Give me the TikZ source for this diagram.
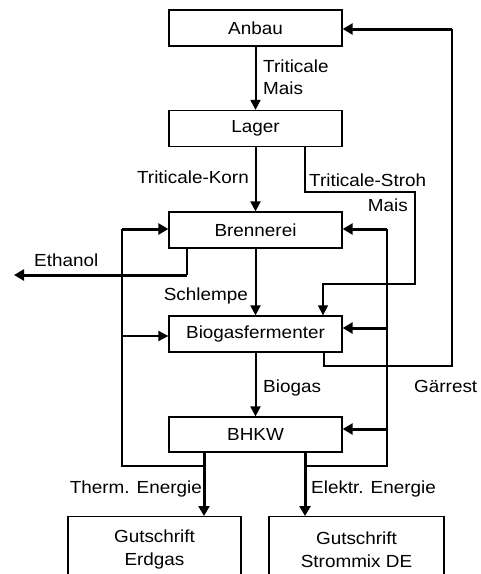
\documentclass[tikz,border=0pt]{standalone}
\usepackage{fontspec}
\setmainfont[FakeStretch=1.08]{Liberation Sans}
\usetikzlibrary{arrows.meta}
\newcommand\fsz{\fontsize{17.5pt}{22.5pt}\selectfont}
\begin{document}
\begin{tikzpicture}[x=1pt,y=-1pt,
  box/.style={draw, line width=1.3pt, minimum width=173pt, minimum height=36pt, inner sep=0pt, font=\fsz},
  lbl/.style={inner sep=0pt, font=\fsz},
  thinl/.style={line width=1.3pt},
  medarrow/.style={line width=2pt, -{Triangle[length=10pt,width=10pt]}},
  thinarrow/.style={line width=1.3pt, -{Triangle[length=10pt,width=10pt]}},
  thickarrow/.style={line width=3pt, -{Triangle[length=10pt,width=11pt]}}]
\useasboundingbox (0,0) rectangle (481,574);
\clip (0,0) rectangle (481,574);
% boxes
\node[box] (anbau) at (255.5,28) {Anbau};
\node[box] (lager) at (255.5,128.5) {Lager};
\node[box] (brennerei) at (255.5,230) {Brennerei};
\node[box] (bgf) at (255.5,334) {Biogasfermenter};
\node[box, minimum height=35pt] (bhkw) at (255.5,434.5) {BHKW};
\node[box, anchor=north, minimum height=66pt, align=center] (erdgas) at (154.5,516) {Gutschrift\\Erdgas};
\node[box, anchor=north, minimum width=175pt, minimum height=66pt, align=center] (strom) at (356.5,516) {Gutschrift\\Strommix DE};
% coordinates
\coordinate (ts1) at (305,192);
\coordinate (ts2) at (415,192);
\coordinate (ts3) at (415,284);
\coordinate (ts4) at (323,284);
\coordinate (e1) at (187,275);
\coordinate (e2) at (14,275);
\coordinate (l1) at (122,229);
\coordinate (l2) at (122,336);
\coordinate (l3) at (122,466);
\coordinate (t1) at (204,466);
\coordinate (r1) at (387,229);
\coordinate (r2) at (387,328);
\coordinate (r3) at (387,429);
\coordinate (r4) at (387,466);
\coordinate (el) at (305,466);
\coordinate (g1) at (324,366);
\coordinate (g2) at (452,366);
\coordinate (g3) at (452,29);
% main chain
\draw[medarrow] (anbau) -- (lager);
\draw[medarrow] (lager) -- (brennerei);
\draw[medarrow] (brennerei) -- (bgf);
\draw[medarrow] (bgf) -- (bhkw);
% Triticale-Stroh / Mais
\draw[thinarrow] (lager.south -| ts1) -- (ts1) -- (ts2) -- (ts3) -- (ts4) -- (bgf.north -| ts4);
% Ethanol
\draw[thinl] (brennerei.south -| e1) -- (e1);
\draw[thickarrow] (e1) -- (e2);
% left loop (heat)
\draw[thinl] (l1) -- (l3) -- (t1);
\draw[thickarrow] (l1) -- (l1 -| brennerei.west);
\draw[medarrow] (l2) -- (l2 -| bgf.west);
\draw[thickarrow] (bhkw.south -| t1) -- (erdgas.north -| t1);
% right loop (electricity)
\draw[thinl] (r1) -- (r4) -- (el);
\draw[thickarrow] (r1) -- (r1 -| brennerei.east);
\draw[thickarrow] (r2) -- (r2 -| bgf.east);
\draw[thickarrow] (r3) -- (r3 -| bhkw.east);
\draw[thickarrow] (bhkw.south -| el) -- (strom.north -| el);
% Gaerrest
\draw[thinl] (bgf.south -| g1) -- (g1) -- (g2) -- (g3);
\draw[thickarrow] (g3) -- (g3 -| anbau.east);
% labels
\node[lbl, anchor=north west, align=left] (ltm) at (263,59.5) {Triticale\\Mais};
\node[lbl, anchor=base east] (ltk) at (249,183) {Triticale-Korn};
\node[lbl, anchor=base west] (lts) at (309,186) {Triticale-Stroh};
\node[lbl, anchor=base east] (lmais) at (408,211) {Mais};
\node[lbl, anchor=base west] (leth) at (34,266) {Ethanol};
\node[lbl, anchor=base east] (lschl) at (248,300) {Schlempe};
\node[lbl, anchor=base west] (lbio) at (263,392) {Biogas};
\node[lbl, anchor=base west] (lgr) at (414,392) {Gärrest};
\node[lbl, anchor=base east] (lth) at (202,493) {Therm. Energie};
\node[lbl, anchor=base west] (lel) at (311,493) {Elektr. Energie};
\end{tikzpicture}
\end{document}
